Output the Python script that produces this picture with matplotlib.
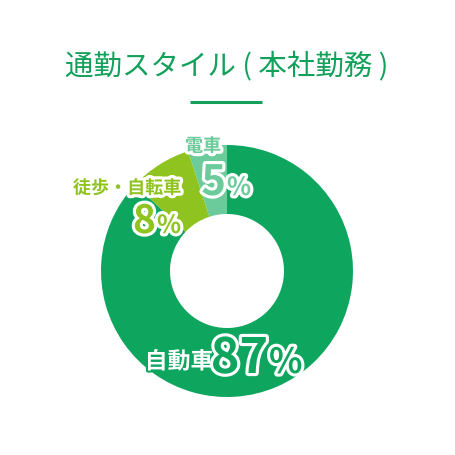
import matplotlib
matplotlib.use("Agg")
import matplotlib.pyplot as plt
import matplotlib.patheffects as pe

plt.rcParams['font.family'] = ['Noto Sans CJK JP', 'DejaVu Sans']

# commute share, head office
labels = ["電車", "徒歩・自転車", "自動車"]
shares = [5, 8, 87]
colors = ["#6bcb9b", "#8fc31f", "#0ea55e"]
title = "通勤スタイル ( 本社勤務 )"

W = H = 455
fig = plt.figure(figsize=(4.55, 4.55), dpi=100)
ax = fig.add_axes([0, 0, 1, 1])

def py(y):
    # pixel row (from top) -> data y
    return H - y

# donut
ax.pie(shares, colors=colors, startangle=90, counterclock=True,
       radius=126, center=(227, py(271)),
       wedgeprops=dict(width=69, linewidth=0), frame=True)
ax.set_xlim(0, W)
ax.set_ylim(0, H)
ax.set_aspect("equal")
ax.axis("off")

# title and short rule underneath
ax.text(227, py(66), title, ha="center", va="center", fontsize=20.5, color="#13a05a")
ax.plot([190, 262], [py(101.5), py(101.5)], color="#13a05a", lw=2.2, solid_capstyle="butt")

white = [pe.withStroke(linewidth=4.5, foreground="white")]

def pct(x, y, val, color, big, small, effects):
    ax.text(x, py(y), str(val), ha="right", va="baseline", fontsize=big,
            fontweight="bold", color=color, path_effects=effects)
    ax.text(x + 1, py(y), "%", ha="left", va="baseline", fontsize=small,
            fontweight="bold", color=color, path_effects=effects)

# 電車
ax.text(203, py(146), labels[0], ha="center", va="center", fontsize=13,
        fontweight="bold", color=colors[0], path_effects=white)
pct(226, 195, shares[0], colors[0], 30, 18, white)

# 徒歩・自転車
ax.text(127, py(188), labels[1], ha="center", va="center", fontsize=13,
        fontweight="bold", color=colors[1], path_effects=white)
pct(156, 233, shares[1], colors[1], 28, 18, white)

# 自動車
ax.text(179, py(362), labels[2], ha="center", va="center", fontsize=16.5,
        fontweight="bold", color="white",
        path_effects=[pe.withStroke(linewidth=3, foreground=colors[2])])
pct(268, 373, shares[2], colors[2], 35, 25, white)

fig.savefig("out.png", dpi=100, facecolor="white")
